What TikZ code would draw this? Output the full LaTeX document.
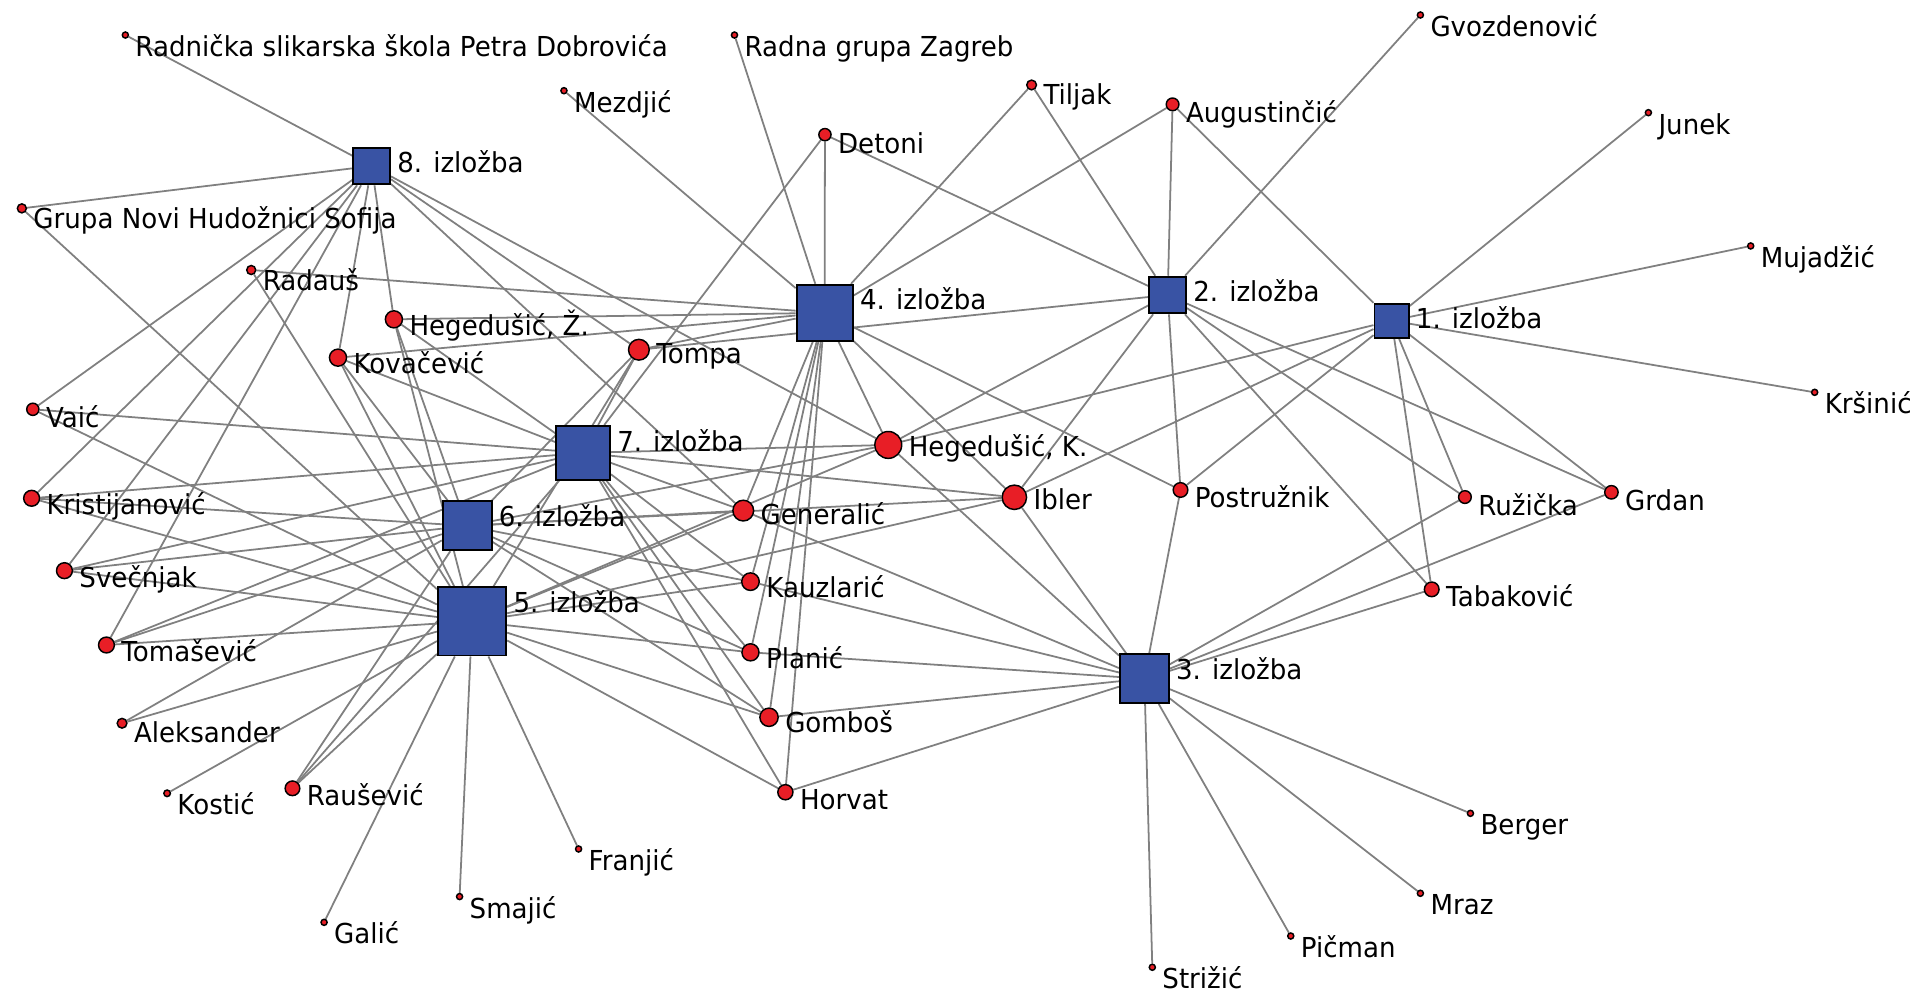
\documentclass[tikz,border=0pt]{standalone}
\usepackage{fontspec}
\setmainfont{DejaVu Sans}[FakeStretch=0.95]
\usetikzlibrary{backgrounds}
\definecolor{expoblue}{RGB}{57,83,164}
\definecolor{persred}{RGB}{232,30,38}
\definecolor{linkgray}{RGB}{128,128,128}
\tikzset{
  expo/.style={rectangle, draw=black, line width=1.6pt, fill=expoblue, minimum size={#1*1pt}, inner sep=0pt},
  pers/.style={circle, draw=black, line width=1.2pt, fill=persred, minimum size={2*#1*1pt}, inner sep=0pt},
  lab/.style={anchor=north west, inner sep=0pt, xshift=5pt, text height=16.4pt, text depth=4.8pt, font=\fontsize{22.5}{26}\selectfont},
  link/.style={draw=linkgray, line width=1.45pt}
}
% exhibition: name, x, y, side, text
\newcommand\expo[5]{\node[expo=#4, label={[lab, yshift={(#4/2-4)*1pt}]0:#5}] (#1) at (#2,#3) {};}
% artist: name, x, y, radius, text
\newcommand\pers[5]{\node[pers=#4, label={[lab, yshift={(#4-3.5)*1pt}]0:#5}] (#1) at (#2,#3) {};}
\begin{document}
\begin{tikzpicture}[x=1pt, y=-1pt]
\useasboundingbox (0,0) rectangle (1568,813);
% exhibitions
\expo{e1}{1140}{262.7}{28}{1. izložba}
\expo{e2}{956.6}{241.7}{30}{2. izložba}
\expo{e3}{937.5}{556}{40}{3. izložba}
\expo{e4}{675.6}{256.3}{46}{4. izložba}
\expo{e5}{386.7}{509}{56}{5. izložba}
\expo{e6}{382.7}{430.8}{40}{6. izložba}
\expo{e7}{477.7}{371}{44}{7. izložba}
\expo{e8}{304.5}{136}{30}{8. izložba}
% artists and groups
\pers{rad}{102.7}{28.7}{2.5}{Radnička slikarska škola Petra Dobrovića}
\pers{rgz}{601.7}{28.7}{2.5}{Radna grupa Zagreb}
\pers{mez}{462}{74.3}{2.5}{Mezdjić}
\pers{til}{845.1}{69.6}{4}{Tiljak}
\pers{aug}{960.6}{85.5}{5.2}{Augustinčić}
\pers{det}{675.8}{110.3}{5}{Detoni}
\pers{gvo}{1163.6}{12.3}{2.5}{Gvozdenović}
\pers{jun}{1350.4}{92.3}{2.5}{Junek}
\pers{muj}{1434.2}{201.5}{2.5}{Mujadžić}
\pers{krs}{1486.6}{321.4}{2.5}{Kršinić}
\pers{gru}{17.9}{170.7}{3.7}{Grupa Novi Hudožnici Sofija}
\pers{rdu}{205.8}{221.2}{3.7}{Radauš}
\pers{hez}{322.7}{261.6}{7}{Hegedušić, Ž.}
\pers{kov}{276.9}{293}{7}{Kovačević}
\pers{tom}{523.4}{286.5}{8.5}{Tompa}
\pers{vai}{26.9}{335.3}{5}{Vaić}
\pers{kri}{25.9}{408.2}{6.5}{Kristijanović}
\pers{sve}{52.8}{467.5}{6.5}{Svečnjak}
\pers{tms}{87.2}{528.4}{6.5}{Tomašević}
\pers{ale}{100}{592.5}{4}{Aleksander}
\pers{kos}{136.9}{649.9}{2.7}{Kostić}
\pers{rau}{239.6}{645.8}{6}{Raušević}
\pers{gal}{265.5}{755.6}{2.5}{Galić}
\pers{sma}{376.5}{734.5}{2.5}{Smajić}
\pers{fra}{474}{695.5}{2.5}{Franjić}
\pers{hek}{727.7}{364.5}{11}{Hegedušić, K.}
\pers{ibl}{831}{407.4}{10}{Ibler}
\pers{gen}{608.9}{418.3}{8.5}{Generalić}
\pers{kau}{614.8}{476.5}{7.2}{Kauzlarić}
\pers{pla}{614.8}{534.4}{7}{Planić}
\pers{gom}{630}{587.6}{7.5}{Gomboš}
\pers{hor}{643.4}{649}{6.2}{Horvat}
\pers{pos}{967.1}{401.4}{6}{Postružnik}
\pers{ruz}{1200.1}{407.2}{5.2}{Ružička}
\pers{grd}{1320.1}{403.3}{5.5}{Grdan}
\pers{tab}{1172.9}{482.8}{6}{Tabaković}
\pers{ber}{1204.6}{666.3}{2.5}{Berger}
\pers{mra}{1163.6}{731.8}{2.5}{Mraz}
\pers{pic}{1057.4}{766.8}{2.5}{Pičman}
\pers{str}{944}{792.4}{2.5}{Strižić}
% ties
\begin{scope}[on background layer]
\foreach \p in {aug,jun,muj,krs,grd,ruz,tab,pos,ibl,hek} \draw[link] (e1) -- (\p);
\foreach \p in {gvo,aug,til,det,tom,hek,ibl,pos,ruz,grd,tab} \draw[link] (e2) -- (\p);
\foreach \p in {str,pic,mra,ber,tab,grd,ruz,pos,ibl,hek,gen,kau,pla,gom,hor} \draw[link] (e3) -- (\p);
\foreach \p in {mez,rgz,det,til,aug,rdu,hez,kov,tom,hek,ibl,pos,gen,kau,pla,gom,hor} \draw[link] (e4) -- (\p);
\foreach \p in {vai,kri,sve,tms,ale,kos,rau,gal,sma,fra,rdu,kov,hez,tom,hek,ibl,gen,kau,pla,gom,hor,gru} \draw[link] (e5) -- (\p);
\foreach \p in {kri,sve,tms,ale,rau,kov,hez,tom,hek,ibl,gen,kau,pla,gom} \draw[link] (e6) -- (\p);
\foreach \p in {vai,kri,sve,tms,kov,hez,tom,det,hek,ibl,gen,kau,pla,gom,hor,rau} \draw[link] (e7) -- (\p);
\foreach \p in {rad,gru,vai,kri,sve,tms,kov,hez,tom,hek,gen} \draw[link] (e8) -- (\p);
\end{scope}
\end{tikzpicture}
\end{document}
